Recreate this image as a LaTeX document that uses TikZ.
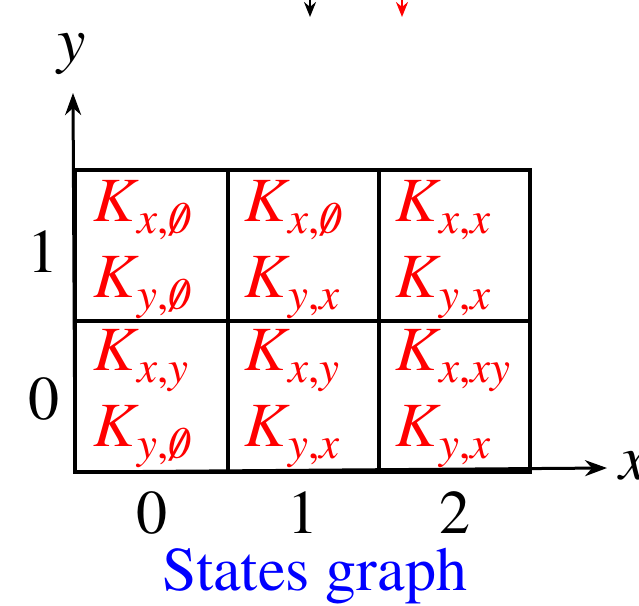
\documentclass[tikz,border=0pt]{standalone}
\usepackage{fontspec}
\setmainfont{texgyretermes}[Extension=.otf,UprightFont=*-regular,ItalicFont=*-italic,BoldFont=*-bold,BoldItalicFont=*-bolditalic]
\usetikzlibrary{arrows.meta}
\newcommand{\slzero}{\ooalign{\textit{0}\cr\hidewidth\raisebox{-2pt}{\textit{/}}\hidewidth\cr}}
\newcommand{\KK}[2]{\textit{K}\kern-1pt\raisebox{-12pt}{\fontsize{45}{45}\selectfont\textit{#1},#2}}
\begin{document}
\begin{tikzpicture}[x=1pt,y=-1pt,
  gridline/.style={line width=4pt},
  axisline/.style={line width=3pt,-{Stealth[length=22pt,width=16pt,inset=7pt]}},
  ktext/.style={text=red,anchor=base west,inner sep=0pt,font=\fontsize{63}{63}\selectfont},
  lbl/.style={font=\fontsize{62}{62}\selectfont,inner sep=0pt},
  toparrow/.style={line width=2.5pt,-{Stealth[length=15pt,width=12pt,inset=5pt]}}]
\useasboundingbox (0,0) rectangle (639,605);
% top arrows
\coordinate (ta1) at (310,-10);
\coordinate (tb1) at (310,17);
\coordinate (ta2) at (402,-10);
\coordinate (tb2) at (402,17);
\draw[toparrow] (ta1) -- (tb1);
\draw[toparrow,red] (ta2) -- (tb2);
% axes
\coordinate (o) at (75,472);
\coordinate (yend) at (73,93);
\coordinate (xend) at (607,468);
\draw[axisline] (o) -- (yend);
\draw[axisline] (o) -- (xend);
\node[lbl,font=\fontsize{64}{64}\selectfont\itshape] (ylab) at (72,54) {y};
\node[lbl,font=\fontsize{64}{64}\selectfont\itshape,anchor=west] (xlab) at (619,466) {x};
% grid
\draw[gridline] (75,170) rectangle (530,472);
\draw[gridline] (75,321) -- (530,321);
\draw[gridline] (228,170) -- (228,472);
\draw[gridline] (379,170) -- (379,472);
% labels
\node[lbl] (r1) at (43,252) {1};
\node[lbl] (r0) at (44,399) {0};
\node[lbl,anchor=base] (c0) at (152,533) {0};
\node[lbl,anchor=base] (c1) at (303,533) {1};
\node[lbl,anchor=base] (c2) at (455,533) {2};
\node[lbl,text=blue,anchor=base] (title) at (315,590) {States graph};
% cells
\node[ktext] (k11) at (93,221) {\KK{x}{\slzero}};
\node[ktext] (k12) at (93,297) {\KK{y}{\slzero}};
\node[ktext] (k21) at (244,221) {\KK{x}{\slzero}};
\node[ktext] (k22) at (244,297) {\KK{y}{\textit{x}}};
\node[ktext] (k31) at (395,221) {\KK{x}{\textit{x}}};
\node[ktext] (k32) at (395,297) {\KK{y}{\textit{x}}};
\node[ktext] (k41) at (93,370) {\KK{x}{\textit{y}}};
\node[ktext] (k42) at (93,446) {\KK{y}{\slzero}};
\node[ktext] (k51) at (244,370) {\KK{x}{\textit{y}}};
\node[ktext] (k52) at (244,446) {\KK{y}{\textit{x}}};
\node[ktext] (k61) at (395,370) {\KK{x}{\textit{xy}}};
\node[ktext] (k62) at (395,446) {\KK{y}{\textit{x}}};
\end{tikzpicture}
\end{document}
